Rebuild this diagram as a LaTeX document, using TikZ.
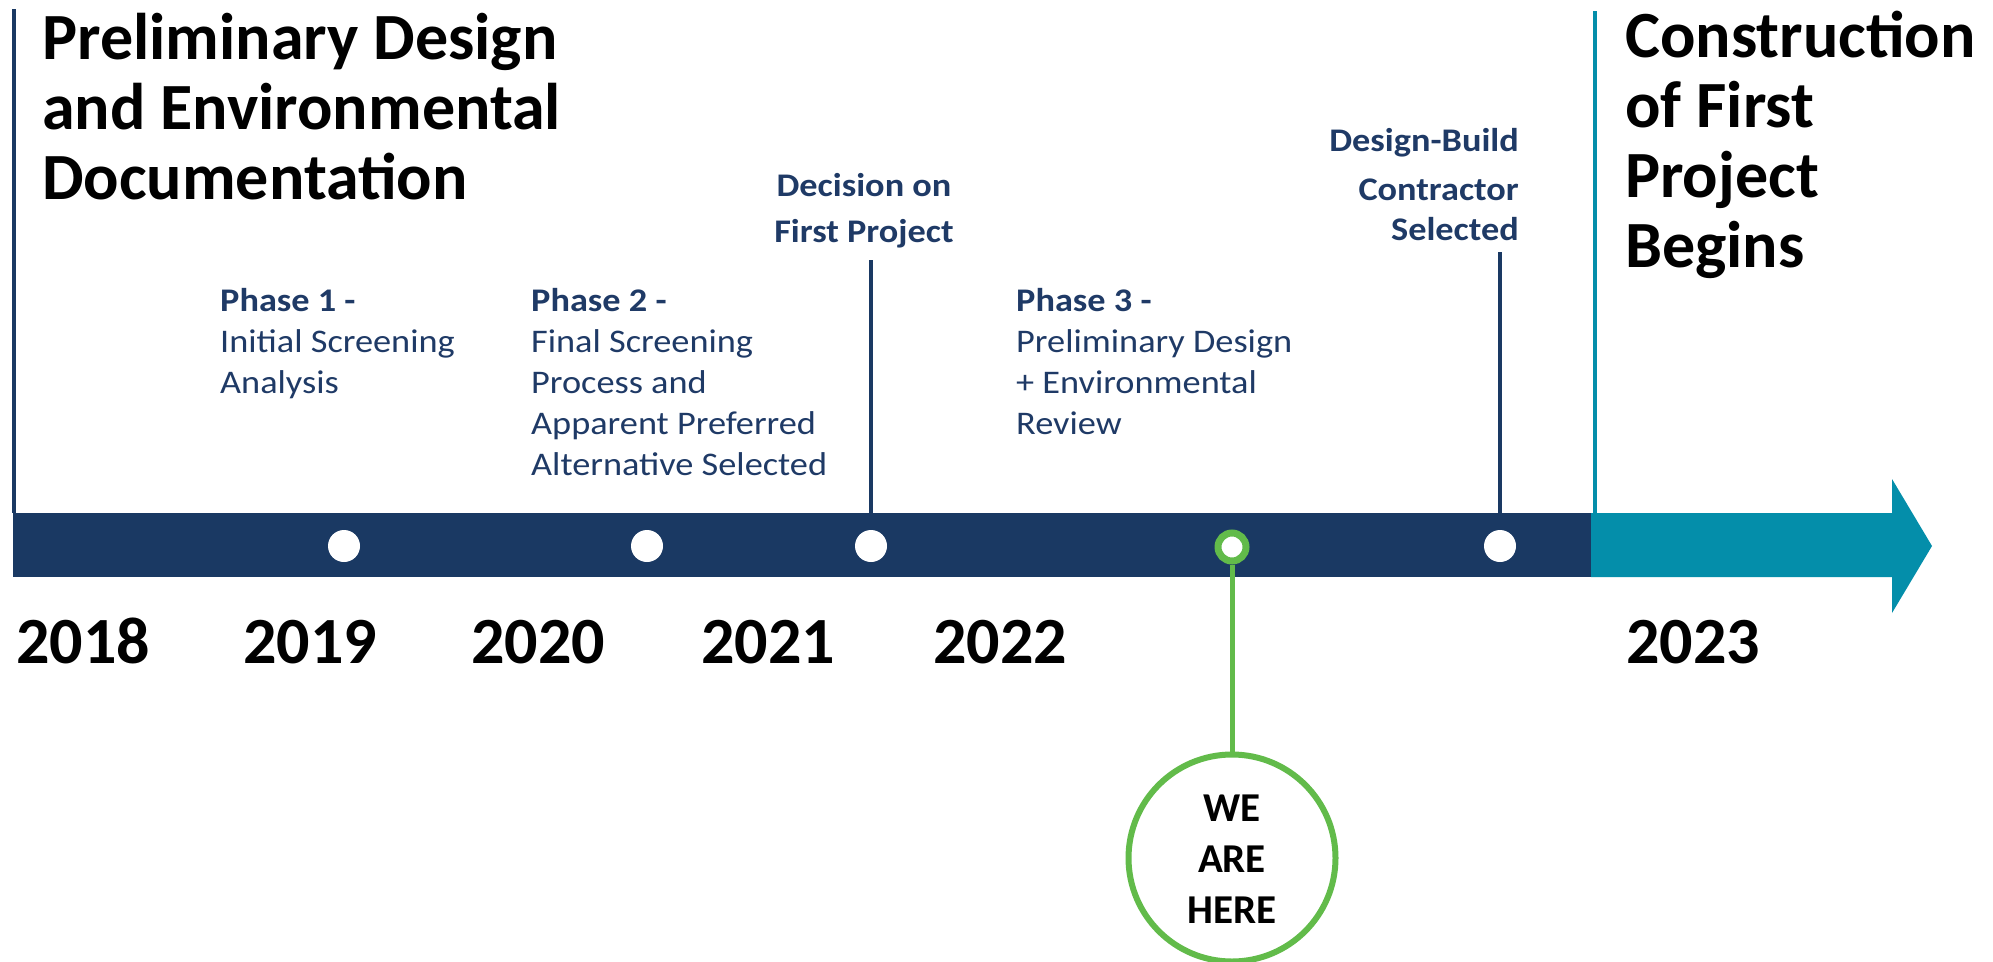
\documentclass[tikz,border=0pt]{standalone}
\usepackage{fontspec}
\setmainfont{Carlito}
\newfontfamily\labfont[FakeStretch=1.1]{Carlito}
\definecolor{navy}{RGB}{26,57,99}
\definecolor{tealc}{RGB}{4,142,170}
\definecolor{grn}{RGB}{98,187,74}
\definecolor{lbl}{RGB}{31,58,102}
\begin{document}
\begin{tikzpicture}[x=1pt,y=-1pt,
  big/.style={font=\fontsize{66}{70}\selectfont\bfseries, inner sep=0, align=left, anchor=base west},
  year/.style={font=\fontsize{66}{70}\selectfont\bfseries, inner sep=0, anchor=base},
  lab/.style={font=\labfont\fontsize{33}{41}\selectfont, text=lbl, inner sep=0, align=left, anchor=base west},
  dot/.style={circle, fill=white, minimum size=32pt, inner sep=0},
  vline/.style={navy, line width=4pt},
]
\useasboundingbox (0,0) rectangle (1993,961);
% bar and arrow
\fill[navy] (13,513) rectangle (1591,577);
\fill[tealc] (1591,513) -- (1892,513) -- (1892,479) -- (1932,546) -- (1892,613) -- (1892,577) -- (1591,577) -- cycle;
% vertical phase boundaries
\coordinate (lt) at (14,9);
\coordinate (lb) at (14,513);
\draw[vline] (lt) -- (lb);
\coordinate (tt) at (1595,11);
\coordinate (tb) at (1595,513);
\draw[tealc, line width=4pt] (tt) -- (tb);
% titles (anchor = baseline of last line)
\node[big] (title) at (42,199) {Preliminary Design\\and Environmental\\Documentation};
\node[big] (constr) at (1625,267) {Construction\\of First\\Project\\Begins};
% years
\node[year] (y18) at (83,663) {2018};
\node[year] (y19) at (310,663) {2019};
\node[year] (y20) at (538,663) {2020};
\node[year] (y21) at (768,663) {2021};
\node[year] (y22) at (1000,663) {2022};
\node[year] (y23) at (1693,663) {2023};
% phase labels
\node[lab] (p1) at (220,393) {\textbf{Phase 1 -}\\Initial Screening\\Analysis};
\node[lab] (p2) at (531,475) {\textbf{Phase 2 -}\\Final Screening\\Process and\\Apparent Preferred\\Alternative Selected};
\node[lab] (p3) at (1016,434) {\textbf{Phase 3 -}\\Preliminary Design\\+ Environmental\\Review};
\node[font=\labfont\fontsize{33}{46}\selectfont\bfseries, text=lbl, inner sep=0, align=center, anchor=base] (dec) at (864,242) {Decision on\\First Project};
\node[font=\labfont\fontsize{33}{40}\selectfont\bfseries, text=lbl, inner sep=0, align=right, anchor=base east] (db) at (1519,240) {Design-Build\\[9pt]Contractor\\Selected};
% dots
\node[dot] (d1) at (344,546) {};
\node[dot] (d2) at (647,546) {};
\node[dot] (d3) at (871,546) {};
\node[dot] (d5) at (1500,546) {};
\coordinate (dect) at (871,260);
\coordinate (dbt) at (1500,252);
\draw[vline] (dect) -- (d3.north);
\draw[vline] (dbt) -- (d5.north);
% we are here
\node[circle, draw=grn, line width=7pt, fill=white, minimum size=28pt, inner sep=0] (now) at (1232,547) {};
\node[circle, draw=grn, line width=6pt, fill=white, minimum size=207pt, inner sep=0] (here) at (1232,858) {};
\draw[grn, line width=5pt] (now.south) -- (here.north);
\node[font=\fontsize{41}{51}\selectfont\bfseries, inner sep=0, align=center, anchor=base] (heretxt) at (1232,923) {WE\\ARE\\HERE};
\end{tikzpicture}
\end{document}
